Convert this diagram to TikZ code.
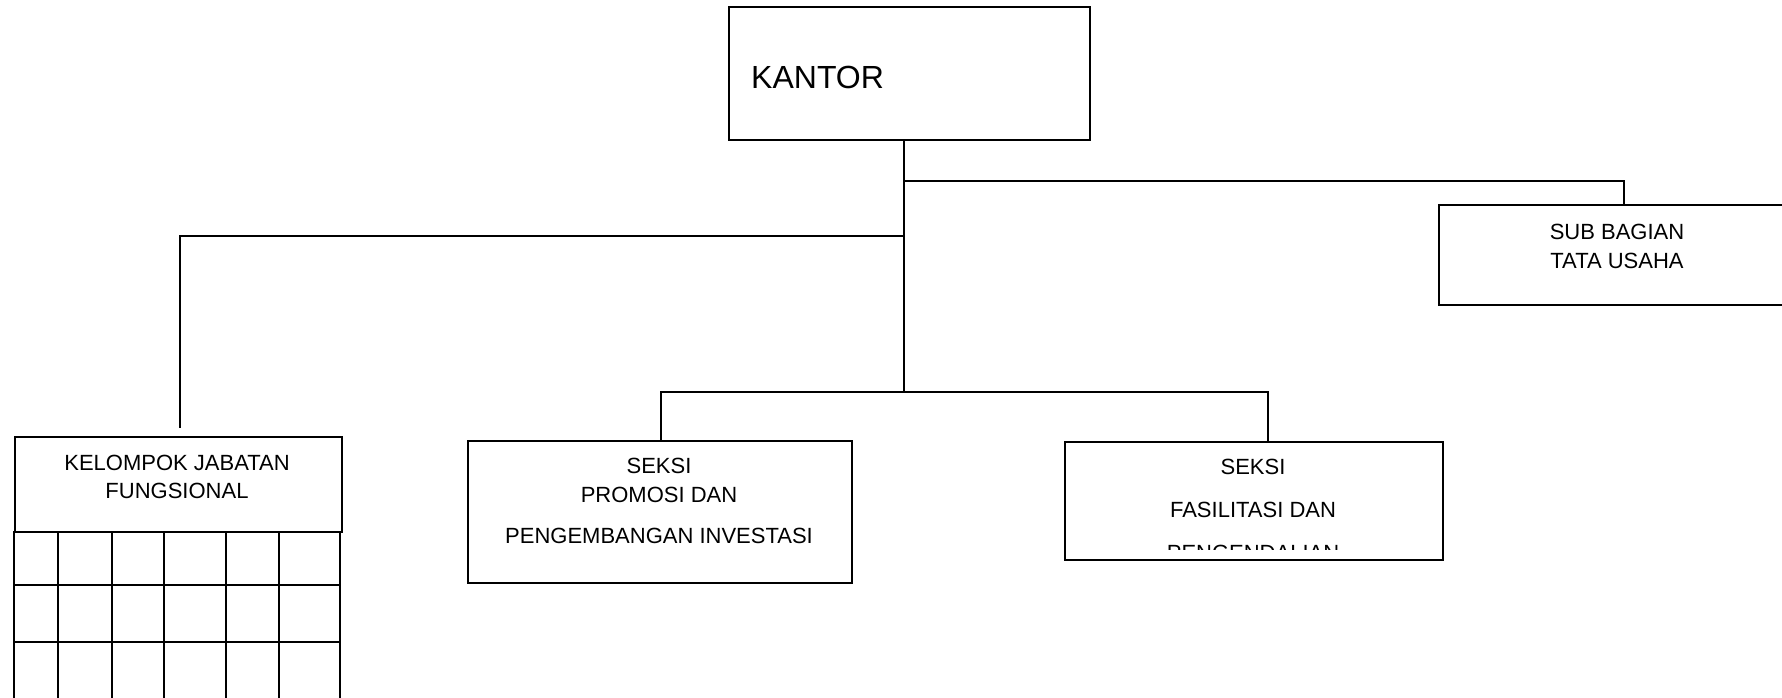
\documentclass[tikz,border=0pt]{standalone}
\usepackage{fontspec}
\setmainfont{Liberation Sans}
\begin{document}
\begin{tikzpicture}[x=1pt,y=-1pt,
  box/.style={draw, line width=1.6pt, rectangle, inner sep=0pt, anchor=north west},
  wire/.style={line width=1.6pt},
  lbl/.style={font=\fontsize{22}{26}\selectfont, anchor=base, inner sep=0pt},
  big/.style={font=\fontsize{32}{38}\selectfont, anchor=base west, inner sep=0pt}]
\useasboundingbox (0,0) rectangle (1782,698);
\clip (0,0) rectangle (1782,698);

% boxes
\node[box, minimum width=361pt, minimum height=133pt] (kantor) at (728,6) {};
\node[box, minimum width=358pt, minimum height=100pt] (subbag) at (1438,204) {};
\node[box, minimum width=327pt, minimum height=95pt] (kelompok) at (14,436) {};
\node[box, minimum width=384pt, minimum height=142pt] (promosi) at (467,440) {};
\node[box, minimum width=378pt, minimum height=118pt] (fasil) at (1064,441) {};

% labels
\node[big] (tkantor) at (751,89) {KANTOR};
\node[lbl] (tsub1) at (1617,239) {SUB BAGIAN};
\node[lbl] (tsub2) at (1617,268) {TATA USAHA};
\node[lbl] (tkel1) at (177,470) {KELOMPOK JABATAN};
\node[lbl] (tkel2) at (177,498) {FUNGSIONAL};
\node[lbl] (tpro1) at (659,473) {SEKSI};
\node[lbl] (tpro2) at (659,502) {PROMOSI DAN};
\node[lbl] (tpro3) at (659,543) {PENGEMBANGAN INVESTASI};
\node[lbl] (tfas1) at (1253,474) {SEKSI};
\node[lbl] (tfas2) at (1253,517) {FASILITASI DAN};
\begin{scope}
  \clip (1066,443) rectangle (1440,549);
  \node[lbl] (tfas3) at (1253,560) {PENGENDALIAN};
\end{scope}

% junctions of the connectors
\coordinate (jright) at (904,181);
\coordinate (jleft) at (904,236);
\coordinate (jbus) at (904,392);
\coordinate (sbturn) at (1624,181);
\coordinate (klturn) at (180,236);
\coordinate (klend) at (180,428);
\coordinate (pa) at (661,392);
\coordinate (pb) at (1268,392);

% connectors
\draw[wire] (kantor.south -| jbus) -- (jbus);
\draw[wire] (jright) -- (sbturn) -- (sbturn |- subbag.north);
\draw[wire] (jleft) -- (klturn) -- (klend);
\draw[wire] (pa |- promosi.north) -- (pa) -- (pb) -- (pb |- fasil.north);

% grid below the functional group box
\foreach \gx in {14,58,112,164,226,279,340}
  \draw[wire] (\gx,531) -- (\gx,700);
\foreach \gy in {585,642}
  \draw[wire] (13,\gy) -- (341,\gy);
\end{tikzpicture}
\end{document}
